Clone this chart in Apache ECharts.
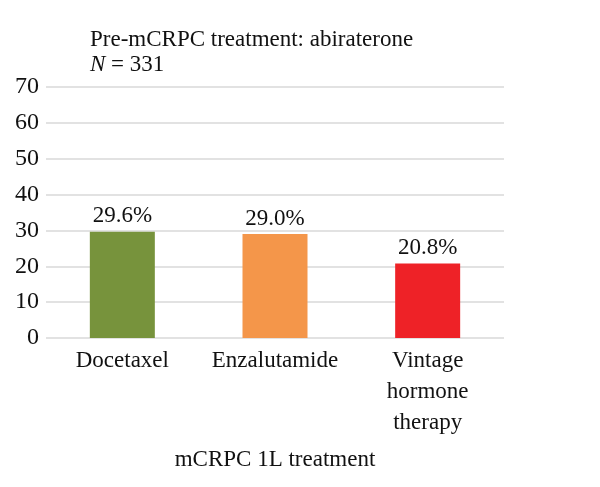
<!DOCTYPE html>
<html>
<head>
<meta charset="utf-8">
<script src="https://cdn.jsdelivr.net/npm/echarts@6/dist/echarts.min.js"></script>
<style>
  html, body { margin: 0; padding: 0; background: #fff; }
  #chart { width: 600px; height: 487px; }
</style>
</head>
<body>
<div id="chart"></div>
<script>
const categories = ["Docetaxel", "Enzalutamide", "Vintage\nhormone\ntherapy"];
const values = [29.6, 29.0, 20.8];
const barColors = ["#77933c", "#f4964a", "#ee2227"];
const yTicks = { min: 0, max: 70, interval: 10 };

const font = "Liberation Serif";

const chart = echarts.init(document.getElementById("chart"));
const option = {
  backgroundColor: "#fff",
  animation: false,
  title: {
    text: "Pre-mCRPC treatment: abiraterone\n{i|N} = 331",
    left: 85,
    top: 22,
    textStyle: {
      fontFamily: font,
      fontSize: 23,
      fontWeight: "normal",
      color: "#111",
      lineHeight: 25,
      rich: {
        i: { fontFamily: font, fontSize: 23, fontStyle: "italic", color: "#111", lineHeight: 25 }
      }
    }
  },
  grid: { left: 46, right: 96, top: 87, bottom: 149 },
  xAxis: {
    type: "category",
    data: categories,
    name: "mCRPC 1L treatment",
    nameLocation: "middle",
    nameGap: 110,
    nameTextStyle: { fontFamily: font, fontSize: 23, color: "#111" },
    axisLine: { show: false },
    axisTick: { show: false },
    axisLabel: {
      fontFamily: font,
      fontSize: 23,
      color: "#111",
      lineHeight: 31,
      margin: 7,
      interval: 0
    }
  },
  yAxis: {
    type: "value",
    min: yTicks.min,
    max: yTicks.max,
    interval: yTicks.interval,
    axisLine: { show: false },
    axisTick: { show: false },
    axisLabel: { fontFamily: font, fontSize: 24, color: "#111", margin: 7 },
    splitLine: { lineStyle: { color: "#d9d9d9", width: 1.5 } }
  },
  series: [
    {
      type: "bar",
      barWidth: 65,
      data: values.map((v, i) => ({ value: v, itemStyle: { color: barColors[i] } })),
      label: {
        show: true,
        position: "top",
        distance: 4,
        formatter: p => p.value.toFixed(1) + "%",
        fontFamily: font,
        fontSize: 23,
        color: "#111"
      }
    }
  ]
};
chart.setOption(option);
</script>
</body>
</html>
